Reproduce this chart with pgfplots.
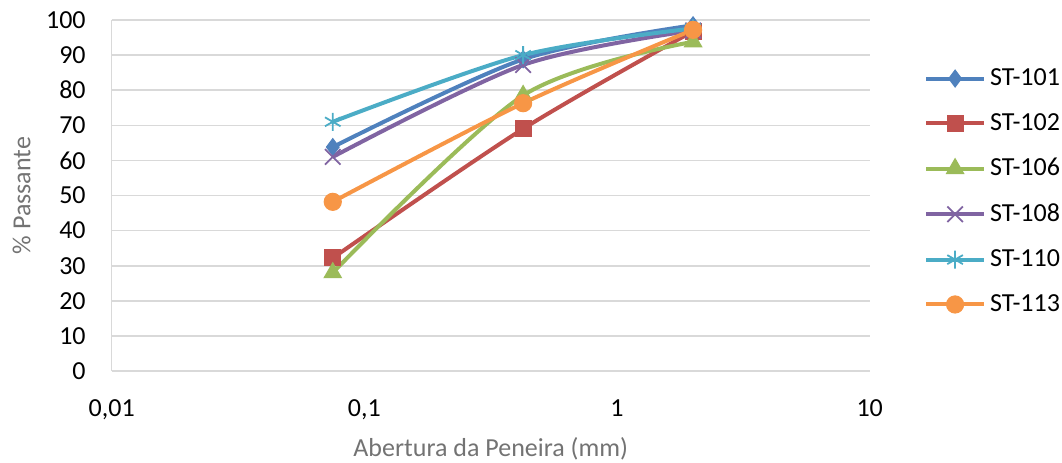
\documentclass[border=0pt]{standalone}
\usepackage{fontspec}
\setmainfont{Carlito}
\usepackage{pgfplots}
\pgfplotsset{compat=1.18}
\definecolor{c1}{HTML}{4F81BD}
\definecolor{c2}{HTML}{C0504D}
\definecolor{c3}{HTML}{9BBB59}
\definecolor{c4}{HTML}{8064A2}
\definecolor{c5}{HTML}{4BACC6}
\definecolor{c6}{HTML}{F79646}
\begin{document}
\begin{tikzpicture}
\begin{axis}[
  scale only axis, width=379pt, height=175.5pt,
  xmode=log, xmin=0.01, xmax=10, ymin=0, ymax=100,
  xtick={0.01,0.1,1,10}, xticklabels={0{,}01,0{,}1,1,10},
  xminorticks=false,
  ytick={0,10,...,100},
  ymajorgrids, grid style={draw=black!15, line width=0.8pt},
  major tick length=0pt,
  axis x line*=bottom, axis y line*=left,
  axis line style={draw=black!15, line width=0.8pt, -},
  /pgf/number format/assume math mode=true,
  tick label style={font=\fontsize{13}{15}\selectfont, text=black},
  xticklabel style={yshift=-11pt}, yticklabel style={xshift=-9.5pt},
  xlabel={Abertura da Peneira (mm)}, ylabel={\% Passante},
  label style={font=\fontsize{13}{15}\selectfont, text=black!55},
  xlabel style={at={(axis description cs:0.5,-0.222)}, anchor=center},
  ylabel style={at={(axis description cs:-0.1187,0.5)}, anchor=center},
  legend style={at={(1,0.5)}, anchor=west, xshift=24pt, yshift=2pt, draw=none, fill=none,
    font=\fontsize{13}{15}\selectfont, row sep=8.5pt},
  legend cell align=left,
  legend image code/.code={\draw[mark repeat=2,mark phase=2] plot coordinates {(0pt,0pt)(14.5pt,0pt)(29pt,0pt)};},
  every axis plot/.append style={line width=2pt, smooth},
]
\addplot[c1, mark=diamond*, mark size=4.25pt, mark options={solid, line width=0.5pt}] coordinates {(0.075,63.8) (0.425,88.8) (2,98.5)};
\addlegendentry{ST-101}
\addplot[c2, mark=square*, mark size=4pt, mark options={solid, line width=0.5pt}] coordinates {(0.075,32.2) (0.425,69) (2,96.8)};
\addlegendentry{ST-102}
\addplot[c3, mark=triangle*, mark size=5pt, mark options={solid, line width=0.5pt}] coordinates {(0.075,28) (0.425,78.5) (2,93.8)};
\addlegendentry{ST-106}
\addplot[c4, mark=x, mark size=5.5pt, mark options={solid, line width=0.9pt}] coordinates {(0.075,61) (0.425,87.2) (2,97)};
\addlegendentry{ST-108}
\addplot[c5, mark=asterisk, mark size=4.5pt, mark options={solid, line width=0.9pt}] coordinates {(0.075,71) (0.425,90) (2,97.6)};
\addlegendentry{ST-110}
\addplot[c6, mark=*, mark size=4.3pt, mark options={solid, line width=0.5pt}] coordinates {(0.075,48.2) (0.425,76.3) (2,97.2)};
\addlegendentry{ST-113}
\coordinate (sw) at (rel axis cs:0,0);
\end{axis}
\pgfresetboundingbox
\path[use as bounding box] ([xshift=-55.85pt,yshift=-45.5pt]sw) rectangle ([xshift=475.15pt,yshift=185.5pt]sw);
\end{tikzpicture}
\end{document}
